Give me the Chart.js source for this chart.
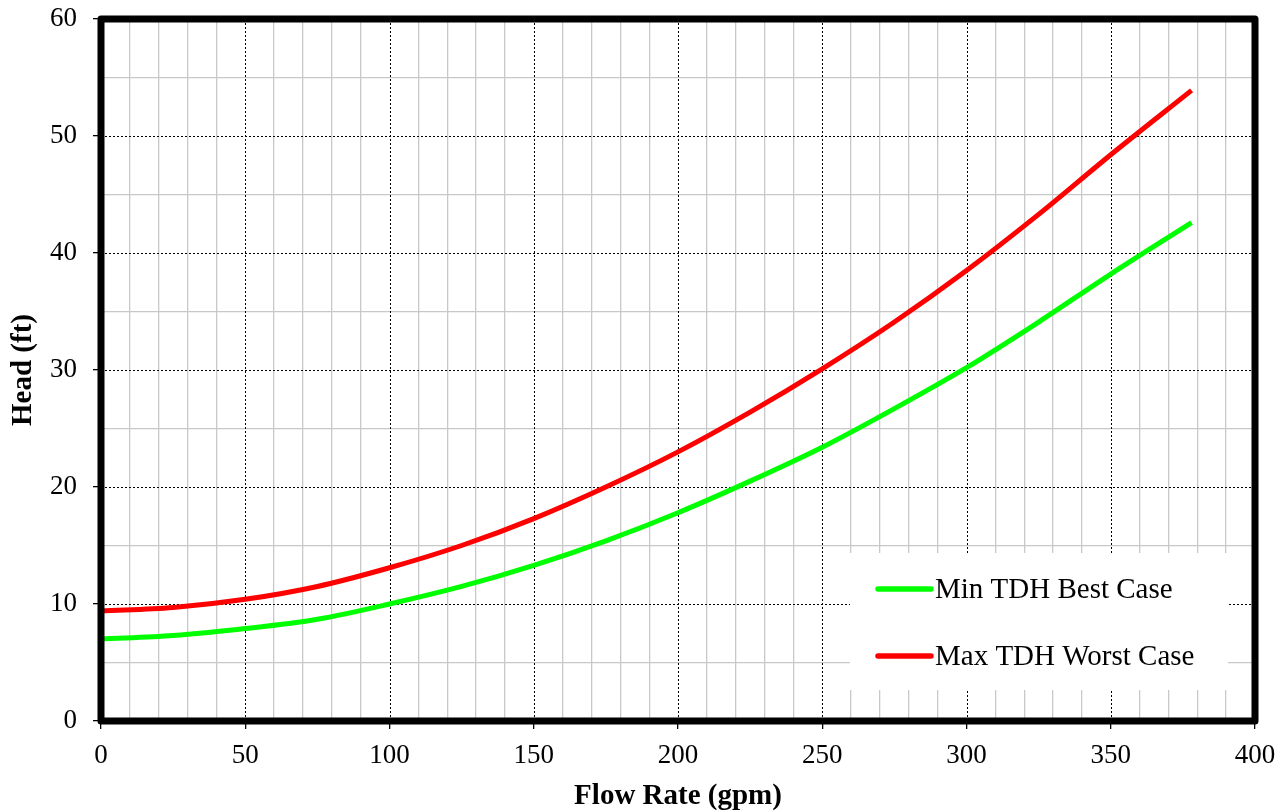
<!DOCTYPE html>
<html>
<head>
<meta charset="utf-8">
<script src="https://cdn.jsdelivr.net/npm/chart.js@4"></script>
<style>
  body { margin: 0; background: #fff; }
  #wrap { width: 1287px; height: 812px; position: relative; }
</style>
</head>
<body>
<div id="wrap"><canvas id="headChart"></canvas></div>
<script>
// values
var flowRate = [0, 25, 50, 75, 100, 125, 150, 175, 200, 225, 250, 275, 300, 325, 350, 378];
var minTdh = [7.0, 7.3, 7.9, 8.7, 10.0, 11.5, 13.3, 15.4, 17.8, 20.5, 23.4, 26.7, 30.2, 34.1, 38.2, 42.6];
var maxTdh = [9.4, 9.7, 10.4, 11.5, 13.1, 15.0, 17.3, 20.0, 23.0, 26.4, 30.1, 34.1, 38.5, 43.3, 48.4, 53.9];
var xTicks = [0, 50, 100, 150, 200, 250, 300, 350, 400];
var yTicks = [0, 10, 20, 30, 40, 50, 60];

var serif = '"Liberation Serif", "Times New Roman", serif';

function points(xs, ys) {
    return xs.map(function (x, i) { return { x: x, y: ys[i] }; });
}

// dashed major grid, legend box and heavy frame
var framePlugin = {
    id: 'frame',
    beforeDatasetsDraw: function (chart) {
        var ctx = chart.ctx, a = chart.chartArea;
        var sx = chart.scales.x, sy = chart.scales.y;
        ctx.save();
        ctx.strokeStyle = '#000';
        ctx.lineWidth = 1;
        ctx.setLineDash([2, 2]);
        xTicks.forEach(function (v) {
            var px = Math.round(sx.getPixelForValue(v)) + 0.5;
            ctx.beginPath(); ctx.moveTo(px, a.top); ctx.lineTo(px, a.bottom); ctx.stroke();
        });
        yTicks.forEach(function (v) {
            var py = Math.round(sy.getPixelForValue(v)) + 0.5;
            ctx.beginPath(); ctx.moveTo(a.left, py); ctx.lineTo(a.right, py); ctx.stroke();
        });
        ctx.restore();
    },
    afterDatasetsDraw: function (chart) {
        var ctx = chart.ctx, a = chart.chartArea;
        ctx.save();
        // legend
        var bx = a.right - 405, by = a.bottom - 168;
        ctx.fillStyle = '#fff';
        ctx.fillRect(bx, by, 378, 137);
        ctx.font = '29px ' + serif;
        ctx.textBaseline = 'alphabetic';
        chart.data.datasets.forEach(function (ds, i) {
            var ly = by + 36 + i * 67;
            ctx.strokeStyle = ds.borderColor;
            ctx.lineWidth = 5.5;
            ctx.lineCap = 'round';
            ctx.beginPath(); ctx.moveTo(bx + 28, ly); ctx.lineTo(bx + 81, ly); ctx.stroke();
            ctx.fillStyle = '#000';
            ctx.fillText(ds.label, bx + 85, ly + 9);
        });
        // frame
        ctx.strokeStyle = '#000';
        ctx.lineWidth = 7;
        ctx.lineJoin = 'round';
        ctx.strokeRect(a.left, a.top, a.right - a.left, a.bottom - a.top);
        ctx.restore();
    }
};

new Chart(document.getElementById('headChart').getContext('2d'), {
    type: 'line',
    data: {
        datasets: [{
            label: 'Min TDH Best Case',
            data: points(flowRate, minTdh),
            borderColor: '#00ff00',
            borderWidth: 5,
            pointRadius: 0,
            cubicInterpolationMode: 'monotone',
            fill: false
        }, {
            label: 'Max TDH Worst Case',
            data: points(flowRate, maxTdh),
            borderColor: '#ff0000',
            borderWidth: 5,
            pointRadius: 0,
            cubicInterpolationMode: 'monotone',
            fill: false
        }]
    },
    plugins: [framePlugin],
    options: {
        responsive: true,
        maintainAspectRatio: false,
        animation: false,
        layout: { padding: { top: 19, right: 32, bottom: 0, left: 0 } },
        plugins: {
            legend: { display: false },
            tooltip: { enabled: false }
        },
        scales: {
            x: {
                type: 'linear',
                min: 0,
                max: 400,
                afterFit: function (s) { s.height = 91; s.paddingLeft = 0; s.paddingRight = 0; },
                border: { display: false },
                grid: {
                    color: function (c) { return c.tick && c.tick.value % 50 === 0 ? 'rgba(0,0,0,0)' : '#c8c8c8'; },
                    lineWidth: 1.3,
                    tickColor: function (c) { return c.tick && c.tick.value % 50 === 0 ? '#000' : 'rgba(0,0,0,0)'; },
                    tickLength: 8,
                    tickWidth: 1.3
                },
                ticks: {
                    stepSize: 10,
                    autoSkip: false,
                    maxRotation: 0,
                    padding: 11,
                    color: '#000',
                    font: { family: serif, size: 27 },
                    callback: function (v) { return xTicks.indexOf(v) >= 0 ? v : ''; }
                },
                title: {
                    display: true,
                    text: 'Flow Rate (gpm)',
                    color: '#000',
                    padding: { top: 0, bottom: -2 },
                    font: { family: serif, size: 29, weight: 'bold' }
                }
            },
            y: {
                min: 0,
                max: 60,
                afterFit: function (s) { s.width = 101; s.paddingTop = 0; s.paddingBottom = 0; },
                border: { display: false },
                grid: {
                    color: function (c) { return c.tick && c.tick.value % 10 === 0 ? 'rgba(0,0,0,0)' : '#c8c8c8'; },
                    lineWidth: 1.3,
                    tickColor: function (c) { return c.tick && c.tick.value % 10 === 0 ? '#000' : 'rgba(0,0,0,0)'; },
                    tickLength: 8,
                    tickWidth: 1.3
                },
                ticks: {
                    stepSize: 5,
                    autoSkip: false,
                    padding: 16,
                    color: '#000',
                    font: { family: serif, size: 27 },
                    callback: function (v) { return yTicks.indexOf(v) >= 0 ? v : ''; }
                },
                title: {
                    display: true,
                    text: 'Head (ft)',
                    color: '#000',
                    padding: { top: 6, bottom: 0 },
                    font: { family: serif, size: 29, weight: 'bold' }
                }
            }
        }
    }
});
</script>
</body>
</html>
